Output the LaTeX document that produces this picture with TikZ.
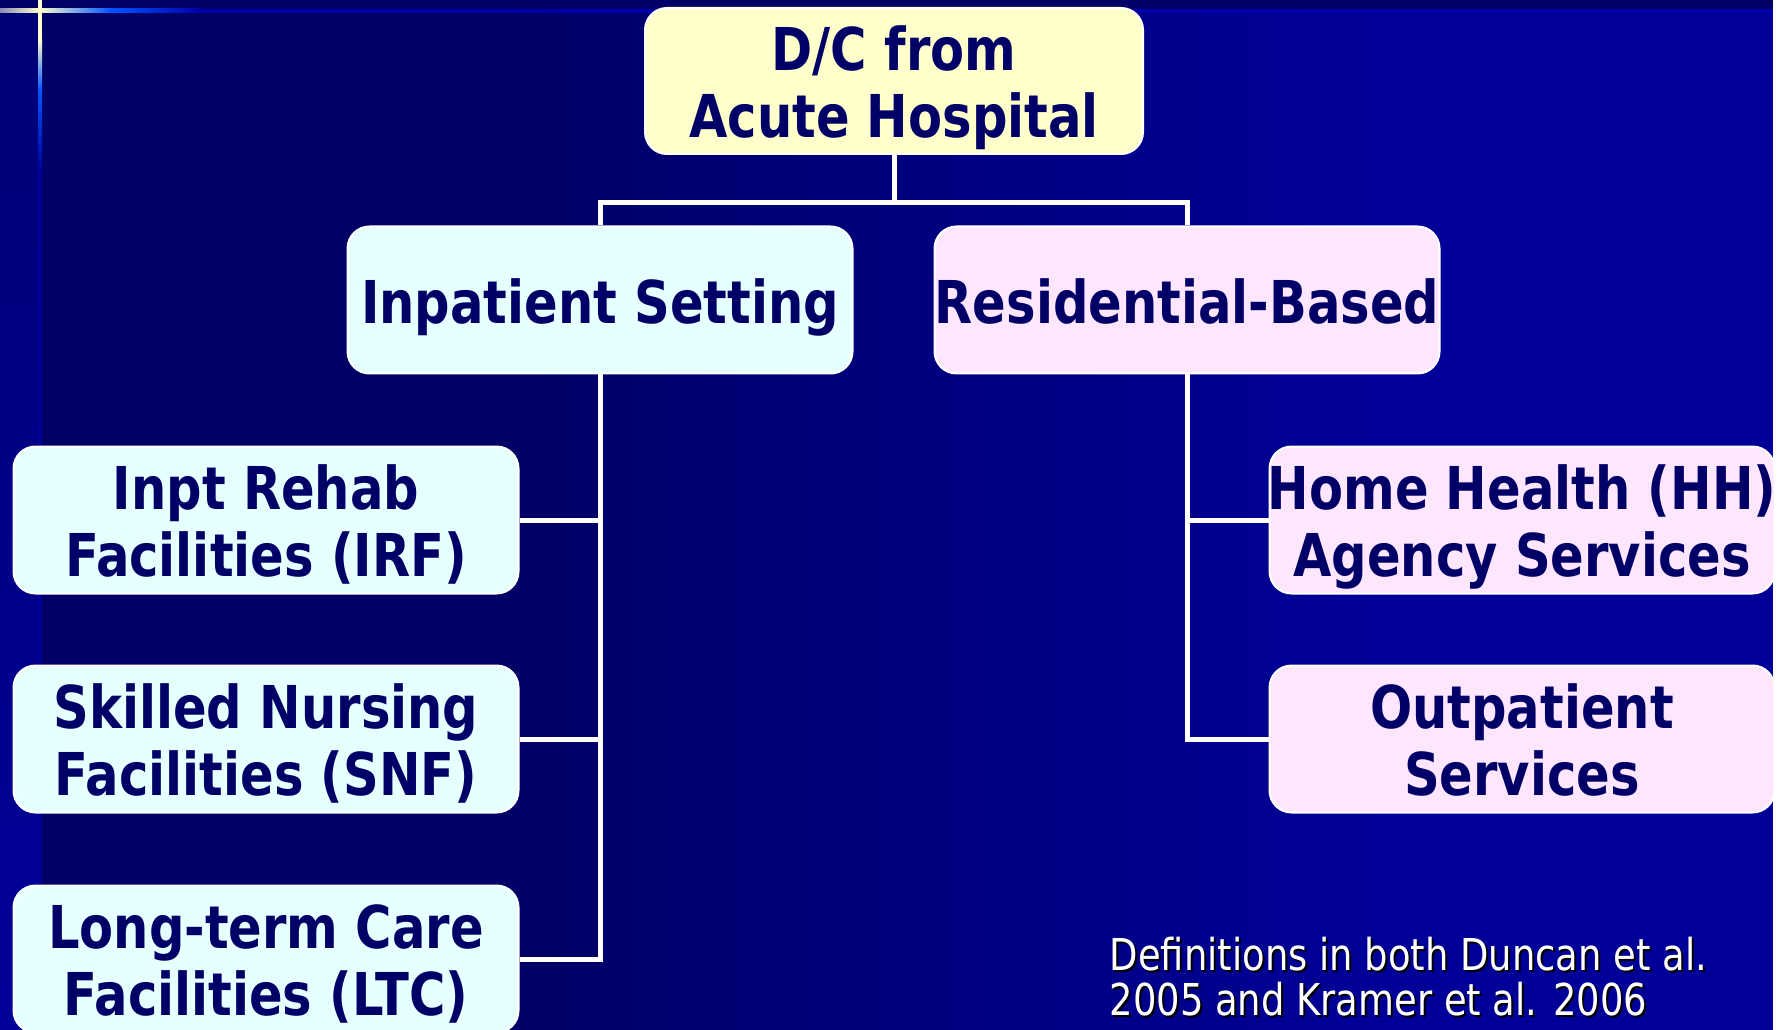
\documentclass[tikz,border=0pt]{standalone}
\usepackage{fontspec}
\usepackage{tikz}
\usetikzlibrary{calc}

\newfontfamily\chartfont{DejaVu Sans}[FakeStretch=0.84]

\definecolor{bgdark}{HTML}{000066}
\definecolor{bgblue}{HTML}{000099}
\definecolor{navytext}{HTML}{000066}
\definecolor{acuteyellow}{HTML}{FFFFCC}
\definecolor{inptcyan}{HTML}{E6FFFF}
\definecolor{resipink}{HTML}{FFE6FF}
\definecolor{glowyellow}{HTML}{FFFFCC}
\definecolor{glowblue}{HTML}{0055FF}
\definecolor{rulebar}{HTML}{0000AA}

\begin{document}
\begin{tikzpicture}[x=0.1mm, y=-0.1mm,
        stage/.style={rounded corners=2.2mm, draw=white, line width=0.2mm,
            minimum width=50.5mm, minimum height=14.7mm,
            inner xsep=-1.5mm, inner ysep=0pt,
            align=center, text=navytext,
            font=\chartfont\bfseries\fontsize{16.8}{19}\selectfont},
        oneline/.style={text height=15pt, text depth=1.4pt},
        twoline/.style={text height=34pt, text depth=1.8pt},
        acute/.style={stage, twoline, fill=acuteyellow, minimum width=49.8mm, minimum height=14.6mm},
        inpt/.style={stage, fill=inptcyan},
        resi/.style={stage, fill=resipink},
        link/.style={white, line width=0.5mm},
        fnote/.style={anchor=north west, inner sep=0pt, align=left,
            font=\chartfont\fontsize{12.5}{13.05}\selectfont},
        ]
    \useasboundingbox (0,0) rectangle (1783,1030);

    % slide background
    \fill[bgdark] (0,0) rectangle (1783,1030);
    \shade[left color=bgdark, right color=bgblue] (500,13) rectangle (1400,1030);
    \fill[bgblue] (1400,13) rectangle (1773,1030);
    \fill[white] (1773,0) rectangle (1783,1030);
    \shade[top color=bgdark!70!bgblue, bottom color=bgblue] (0,13) rectangle (38,1030);
    \shade[left color=glowyellow!55!bgblue, right color=glowyellow] (0,9) rectangle (40,13);
    \shade[left color=glowyellow, right color=glowblue] (40,9) rectangle (110,13);
    \shade[left color=glowblue, right color=rulebar] (110,9) rectangle (200,13);
    \fill[rulebar] (200,9) rectangle (1773,13);
    \fill[glowyellow] (38,0) rectangle (42,40);
    \shade[top color=glowyellow, bottom color=glowblue] (38,40) rectangle (42,90);
    \shade[top color=glowblue, bottom color=bgblue] (38,90) rectangle (42,170);
    \fill[bgblue] (38,170) rectangle (42,1030);

    \node (DC) at (894, 81) [acute] {D/C from\\Acute Hospital};
    \node (INPT) at (600, 300) [inpt, oneline] {Inpatient Setting};
    \node (RESI) at (1187, 300) [resi, oneline] {Residential-Based};

    \node (IRF) at (266, 520) [inpt, twoline] {Inpt Rehab\\Facilities (IRF)};
    \node (SNF) at (266, 739) [inpt, twoline] {Skilled Nursing\\Facilities (SNF)};
    \node (LTC) at (266, 959) [inpt, twoline] {Long-term Care\\Facilities (LTC)};

    \node (HH) at (1522, 520) [resi, twoline] {Home Health (HH)\\Agency Services};
    \node (OUTP) at (1522, 739) [resi, twoline] {Outpatient\\Services};

    \coordinate (FORK) at ($(DC.south) + (0, 48)$);
    \draw [link] (DC.south) -- (FORK);
    \draw [link] (INPT.north) |- (FORK) -| (RESI.north);

    \draw [link] (INPT.south) |- (IRF.east);
    \draw [link] (INPT.south) |- (SNF.east);
    \draw [link] (INPT.south) |- (LTC.east);

    \draw [link] (RESI.south) |- (HH.west);
    \draw [link] (RESI.south) |- (OUTP.west);

    \node (NOTESHADOW) at (1111, 938) [fnote, text=black] {Definitions in both Duncan et al.\\2005 and Kramer et al. 2006};
    \node (NOTE) at (1109, 936) [fnote, text=white] {Definitions in both Duncan et al.\\2005 and Kramer et al. 2006};
\end{tikzpicture}
\end{document}
